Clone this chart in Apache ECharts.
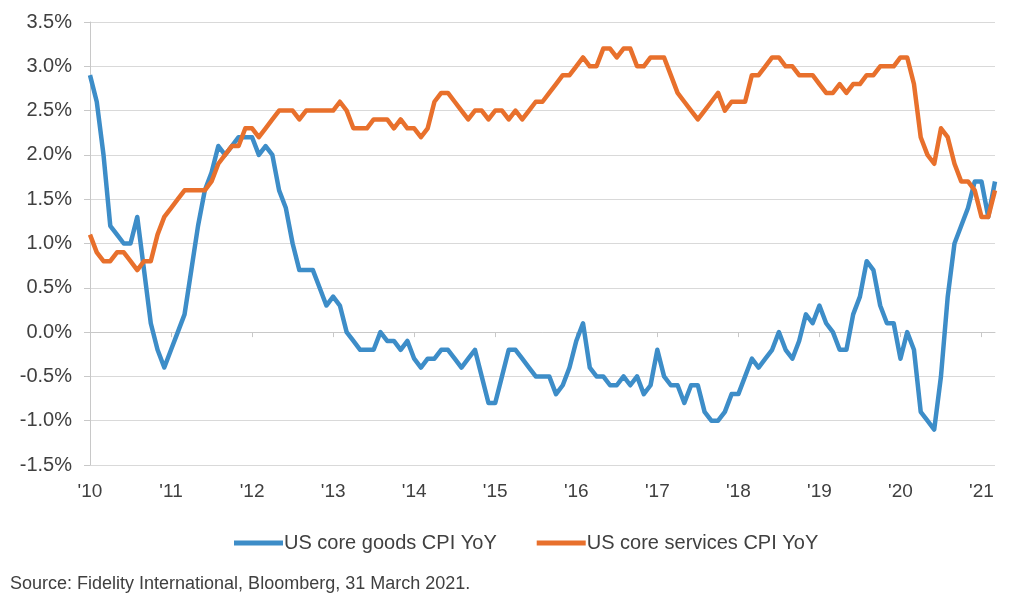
<!DOCTYPE html>
<html>
<head>
<meta charset="utf-8">
<script src="https://cdn.jsdelivr.net/npm/echarts@6/dist/echarts.min.js"></script>
<style>
html,body{margin:0;padding:0;background:#fff;}
#chart{width:1024px;height:602px;}
</style>
</head>
<body>
<div id="chart"></div>
<script>
// Monthly observations, Jan 2010 .. Mar 2021
var startYear = 2010;
var monthCount = 135;
var yTicks = [-1.5, -1.0, -0.5, 0.0, 0.5, 1.0, 1.5, 2.0, 2.5, 3.0, 3.5];
var seriesNames = ['US core goods CPI YoY', 'US core services CPI YoY'];

var goods = [
 2.9, 2.6, 2.0, 1.2, 1.1, 1.0, 1.0, 1.3, 0.7, 0.1, -0.2, -0.4,
 -0.2, 0.0, 0.2, 0.7, 1.2, 1.6, 1.8, 2.1, 2.0, 2.1, 2.2, 2.2,
 2.2, 2.0, 2.1, 2.0, 1.6, 1.4, 1.0, 0.7, 0.7, 0.7, 0.5, 0.3,
 0.4, 0.3, 0.0, -0.1, -0.2, -0.2, -0.2, 0.0, -0.1, -0.1, -0.2, -0.1,
 -0.3, -0.4, -0.3, -0.3, -0.2, -0.2, -0.3, -0.4, -0.3, -0.2, -0.5, -0.8,
 -0.8, -0.5, -0.2, -0.2, -0.3, -0.4, -0.5, -0.5, -0.5, -0.7, -0.6, -0.4,
 -0.1, 0.1, -0.4, -0.5, -0.5, -0.6, -0.6, -0.5, -0.6, -0.5, -0.7, -0.6,
 -0.2, -0.5, -0.6, -0.6, -0.8, -0.6, -0.6, -0.9, -1.0, -1.0, -0.9, -0.7,
 -0.7, -0.5, -0.3, -0.4, -0.3, -0.2, 0.0, -0.2, -0.3, -0.1, 0.2, 0.1,
 0.3, 0.1, 0.0, -0.2, -0.2, 0.2, 0.4, 0.8, 0.7, 0.3, 0.1, 0.1,
 -0.3, 0.0, -0.2, -0.9, -1.0, -1.1, -0.5, 0.4, 1.0, 1.2, 1.4, 1.7,
 1.7, 1.3, 1.7
];

var services = [
 1.1, 0.9, 0.8, 0.8, 0.9, 0.9, 0.8, 0.7, 0.8, 0.8, 1.1, 1.3,
 1.4, 1.5, 1.6, 1.6, 1.6, 1.6, 1.7, 1.9, 2.0, 2.1, 2.1, 2.3,
 2.3, 2.2, 2.3, 2.4, 2.5, 2.5, 2.5, 2.4, 2.5, 2.5, 2.5, 2.5,
 2.5, 2.6, 2.5, 2.3, 2.3, 2.3, 2.4, 2.4, 2.4, 2.3, 2.4, 2.3,
 2.3, 2.2, 2.3, 2.6, 2.7, 2.7, 2.6, 2.5, 2.4, 2.5, 2.5, 2.4,
 2.5, 2.5, 2.4, 2.5, 2.4, 2.5, 2.6, 2.6, 2.7, 2.8, 2.9, 2.9,
 3.0, 3.1, 3.0, 3.0, 3.2, 3.2, 3.1, 3.2, 3.2, 3.0, 3.0, 3.1,
 3.1, 3.1, 2.9, 2.7, 2.6, 2.5, 2.4, 2.5, 2.6, 2.7, 2.5, 2.6,
 2.6, 2.6, 2.9, 2.9, 3.0, 3.1, 3.1, 3.0, 3.0, 2.9, 2.9, 2.9,
 2.8, 2.7, 2.7, 2.8, 2.7, 2.8, 2.8, 2.9, 2.9, 3.0, 3.0, 3.0,
 3.1, 3.1, 2.8, 2.2, 2.0, 1.9, 2.3, 2.2, 1.9, 1.7, 1.7, 1.6,
 1.3, 1.3, 1.6
];

var months = [];
for (var i = 0; i < monthCount; i++) {
  var y = startYear + Math.floor(i / 12);
  var m = (i % 12) + 1;
  months.push(y + '-' + (m < 10 ? '0' + m : m));
}

var FONT = "'Liberation Sans', Arial, sans-serif";
var TXT = '#404040';
var isJan = function (idx) { return idx % 12 === 0; };

var chart = echarts.init(document.getElementById('chart'));
chart.setOption({
  animation: false,
  backgroundColor: '#ffffff',
  grid: { left: 90, right: 29, top: 22, bottom: 137 },
  legend: {
    data: seriesNames,
    top: 528,
    left: 229,
    icon: 'rect',
    itemWidth: 49,
    itemHeight: 5,
    itemGap: 40,
    textStyle: { fontFamily: FONT, fontSize: 20, color: TXT, padding: [0, 0, 0, -4] }
  },
  graphic: [{
    type: 'text',
    left: 10,
    top: 575,
    style: { text: 'Source: Fidelity International, Bloomberg, 31 March 2021.', fontFamily: FONT, fontSize: 18, fill: TXT }
  }],
  xAxis: [{
    type: 'category',
    data: months,
    boundaryGap: false,
    position: 'bottom',
    axisLine: { onZero: true, lineStyle: { color: '#C8C8C8', width: 1 } },
    axisTick: { show: true, interval: isJan, length: 5, lineStyle: { color: '#C8C8C8' } },
    axisLabel: { show: false },
    splitLine: { show: false }
  }, {
    type: 'category',
    data: months,
    boundaryGap: false,
    position: 'bottom',
    axisLine: { show: false, onZero: false },
    axisTick: { show: false },
    axisLabel: {
      show: true,
      interval: isJan,
      margin: 17,
      fontFamily: FONT, fontSize: 19, color: TXT,
      formatter: function (v) { return "'" + v.slice(2, 4); }
    },
    splitLine: { show: false }
  }],
  yAxis: {
    type: 'value',
    min: yTicks[0],
    max: yTicks[yTicks.length - 1],
    interval: 0.5,
    axisLine: { show: true, lineStyle: { color: '#C8C8C8', width: 1 } },
    axisTick: { show: true, length: 6, lineStyle: { color: '#C8C8C8' } },
    axisLabel: {
      margin: 18,
      fontFamily: FONT, fontSize: 20, color: TXT,
      formatter: function (v) { return v.toFixed(1) + '%'; }
    },
    splitLine: { show: true, lineStyle: { color: '#D9D9D9', width: 1.2 } }
  },
  series: [{
    name: seriesNames[0],
    type: 'line',
    xAxisIndex: 0,
    data: goods,
    showSymbol: false,
    symbol: 'none',
    color: '#3D8DC8',
    lineStyle: { width: 4.5, color: '#3D8DC8', join: 'round' }
  }, {
    name: seriesNames[1],
    type: 'line',
    xAxisIndex: 0,
    data: services,
    showSymbol: false,
    symbol: 'none',
    color: '#E8702C',
    lineStyle: { width: 4.5, color: '#E8702C', join: 'round' }
  }]
});
</script>
</body>
</html>
